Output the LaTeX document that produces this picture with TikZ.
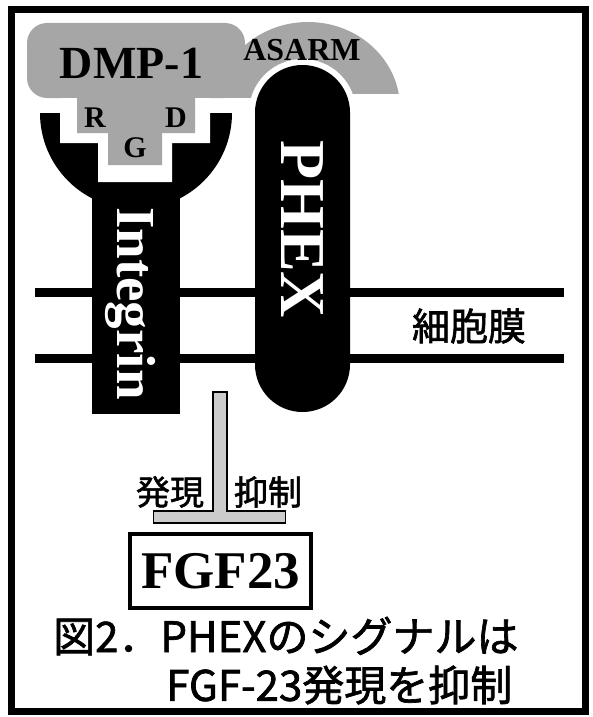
\documentclass[tikz,border=0pt]{standalone}
\usepackage{fontspec}
\setmainfont{Liberation Serif}
\newfontfamily\jpfont[FakeBold=1.6]{Noto Sans CJK JP}
\usetikzlibrary{positioning, calc}

\definecolor{dmpgray}{gray}{0.65}
\definecolor{tbargray}{gray}{0.8}

\begin{document}
\begin{tikzpicture}[
    x=1pt, y=-1pt,
    serif/.style={
        font=\bfseries\fontsize{#1}{#1}\selectfont,
        inner sep=0pt
    },
    jp/.style={
        font=\jpfont\fontsize{#1}{#1}\selectfont,
        inner sep=0pt
    },
    dmp/.style={fill=dmpgray},
    membrane/.style={line width=9pt},
    tbar/.style={draw, line width=1.2pt, fill=tbargray},
    box/.style={
        draw,
        line width=4pt,
        minimum width=181pt,
        minimum height=74pt,
        inner sep=0pt
    }
]
    \useasboundingbox (0,0) rectangle (592,717);

    % DMP-1 with its ASARM tail
    \fill[dmp, rounded corners=20pt] (27,23) rectangle (245,98);
    \fill[dmp] (200,50) rectangle (255,98);
    \begin{scope}
        \clip (200,0) rectangle (420,93);
        \fill[dmp] (308,108) ellipse [x radius=92, y radius=86];
    \end{scope}

    % white gap around PHEX
    \draw[white, line width=12pt, rounded corners=47.5pt] (255,65) rectangle (350,412);

    % Cell membrane
    \draw[membrane] (35,292.5) -- (564,292.5);
    \draw[membrane] (35,358) -- (564,358);

    % Integrin cup and stem
    \fill (232,113) arc[start angle=0, end angle=180, radius=96] -- cycle;
    \fill (92,150) rectangle (180,414);

    % RGD pocket
    \fill[white] (60,98) -- (210,98) -- (210,143) -- (172,143) -- (172,182)
        -- (98,182) -- (98,143) -- (60,143) -- cycle;
    \fill[dmp] (77,95) -- (195,95) -- (195,133) -- (162,133) -- (162,165)
        -- (108,165) -- (108,133) -- (77,133) -- cycle;

    % PHEX body
    \fill[rounded corners=47.5pt] (255,65) rectangle (350,412);

    % Labels
    \node[serif=46, anchor=base] (dmp1) at (131.5,78) {DMP-1};
    \node[serif=32, anchor=base] (asarm) at (302,60) {ASARM};
    \node[serif=30, anchor=base] (argR) at (95,127) {R};
    \node[serif=30, anchor=base] (glyG) at (135,157) {G};
    \node[serif=30, anchor=base] (aspD) at (176,127) {D};
    \node[serif=55, text=white, rotate=-90, anchor=base west] (integrin) at (117,207) {Integrin};
    \node[serif=64, text=white, rotate=-90, anchor=base west] (phex) at (281,140) {PHEX};
    \node[jp=38] (membranelabel) at (469,326) {細胞膜};

    % Suppression of FGF23 expression
    \node[box, serif=53] (fgf) at (220.5,571) {FGF23};
    \coordinate (signal) at (220,392);
    \coordinate (bar) at ($(fgf.north)+(0,-9)$);
    \draw[tbar] ($(signal)+(-7,0)$) -- ($(signal)+(7,0)$)
        |- ($(bar)+(65,-12)$) -- ($(bar)+(65,0)$)
        -- ($(bar)+(-67,0)$) -- ($(bar)+(-67,-12)$)
        -| ($(signal)+(-7,0)$) -- cycle;
    \node[jp=34] (express) at (170,492) {発現};
    \node[jp=34] (suppress) at (268,492) {抑制};

    % Caption
    \node[jp=42, anchor=west] (title1) at (53,636) {図2．PHEXのシグナルは};
    \node[jp=42, anchor=west] (title2) at (166,685) {FGF-23発現を抑制};

    % Outer frame
    \draw[line width=7pt] (11.5,9.5) rectangle (585,711.5);
\end{tikzpicture}
\end{document}
